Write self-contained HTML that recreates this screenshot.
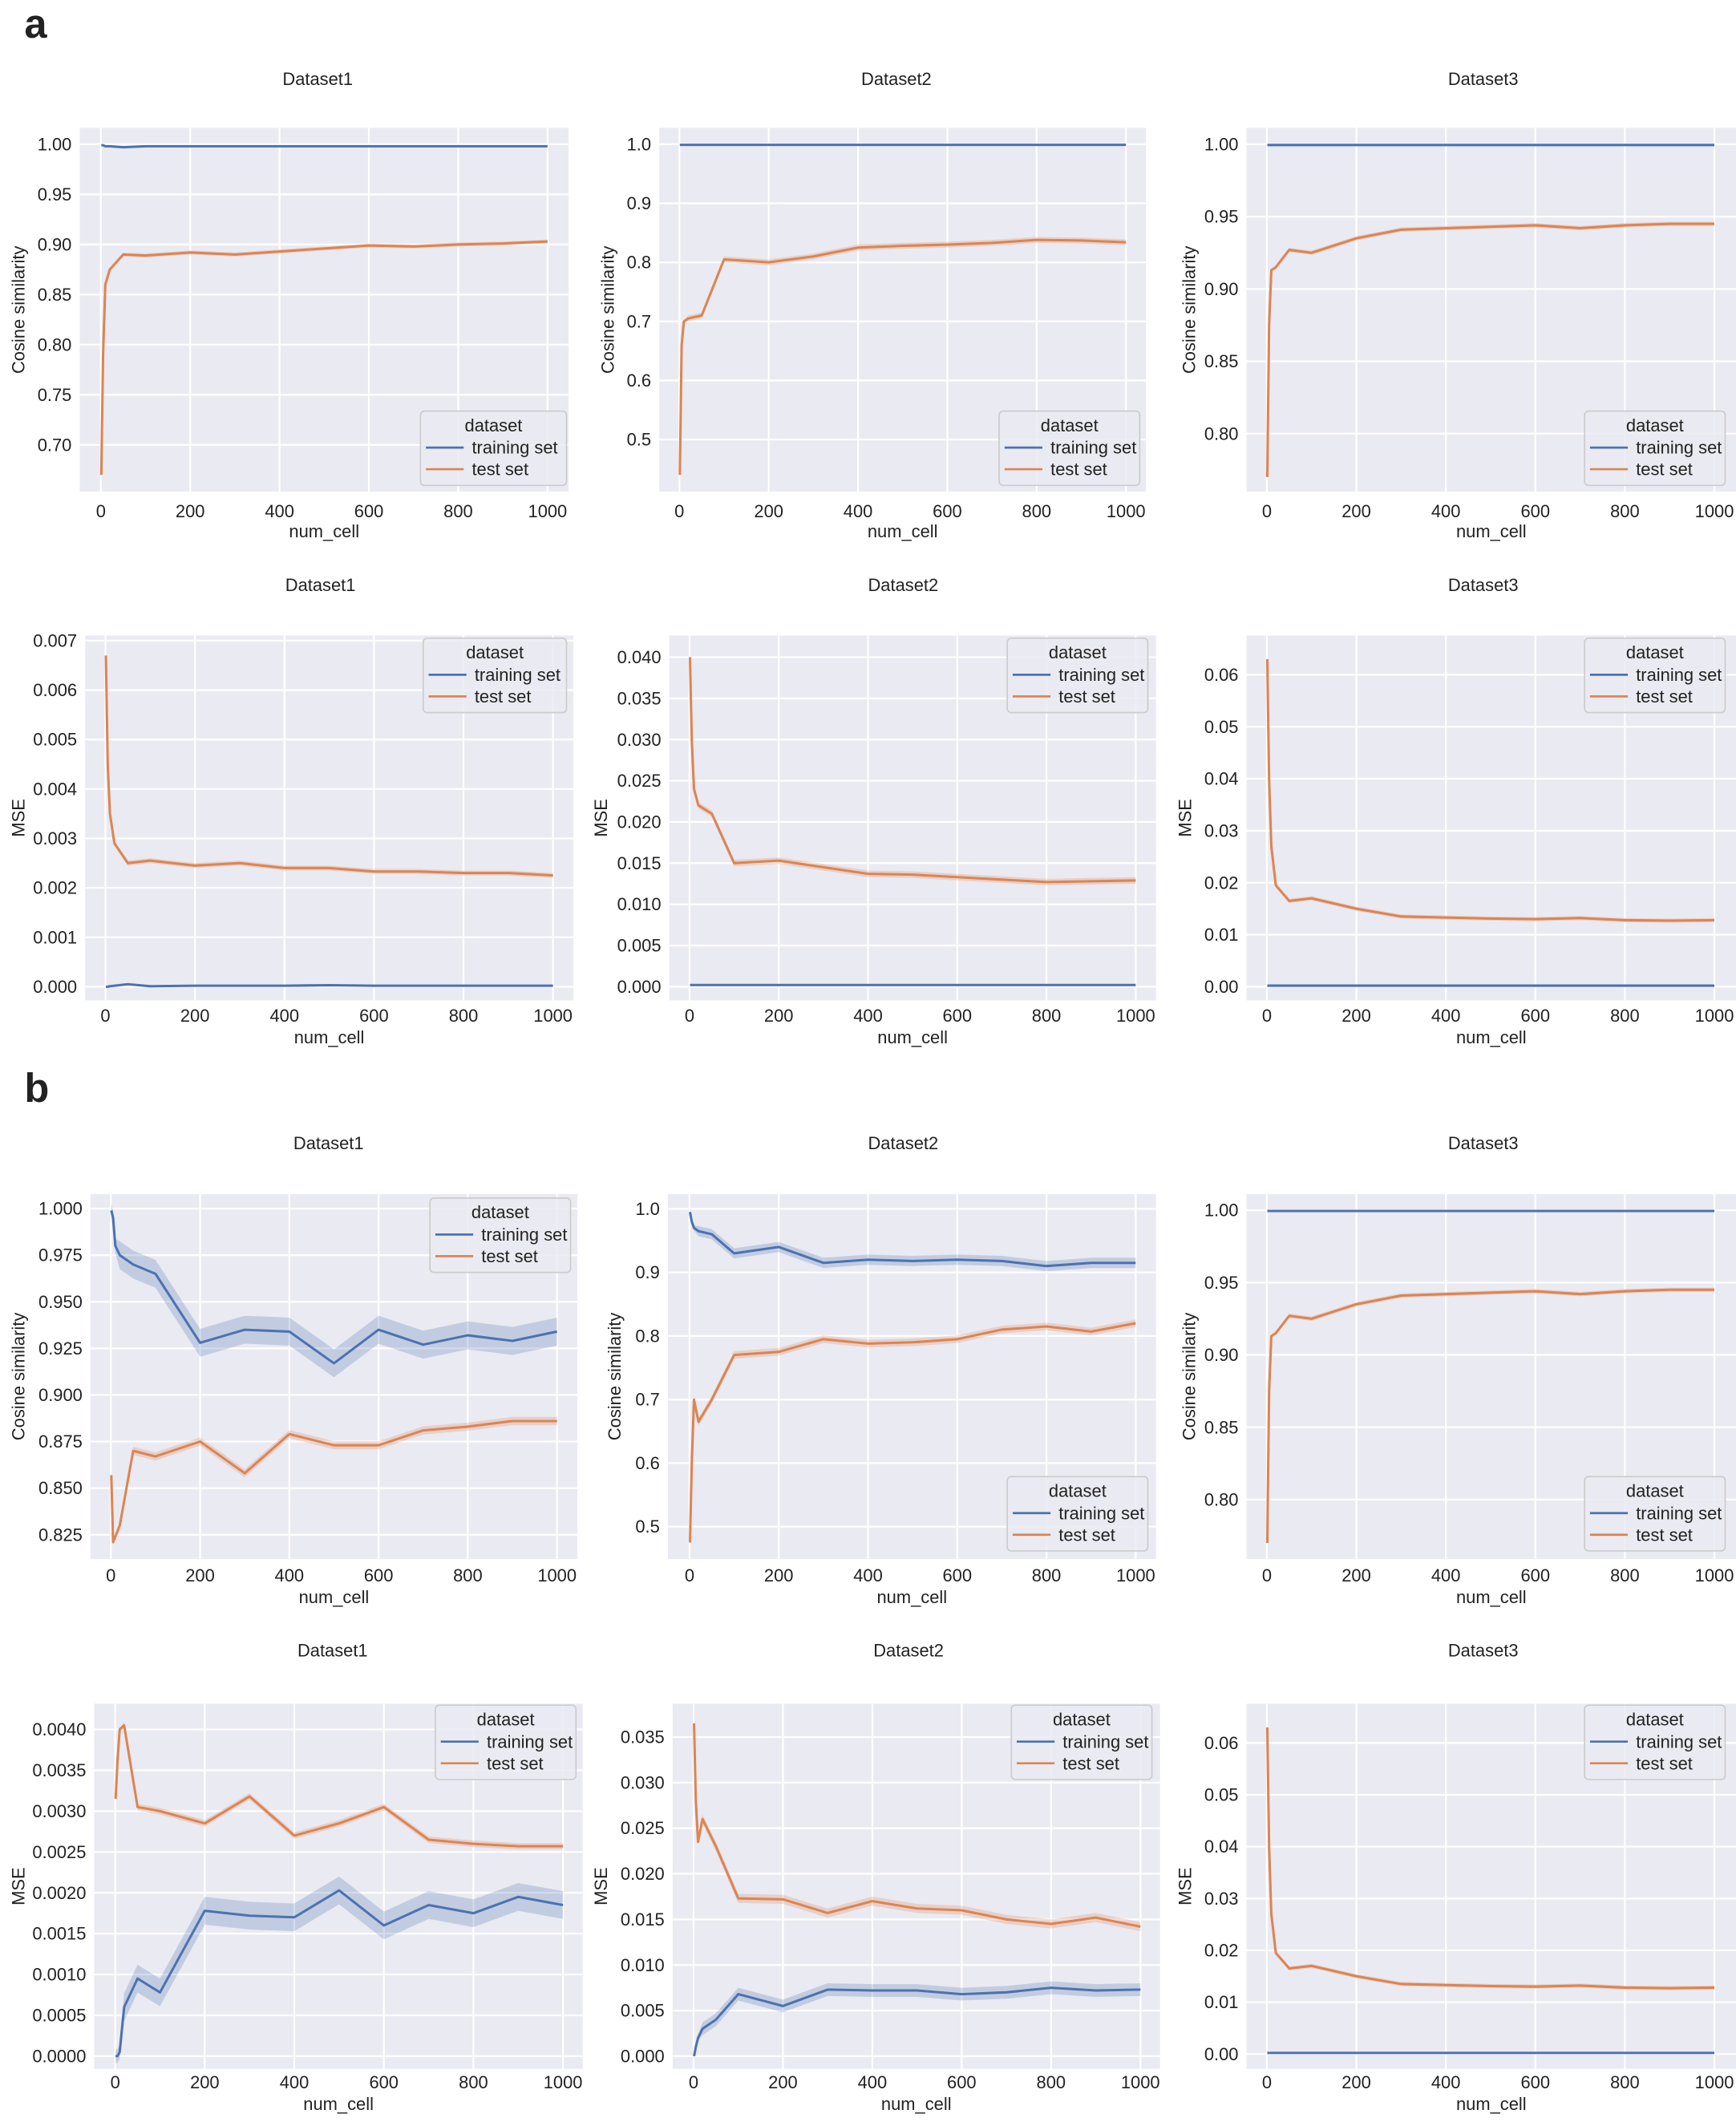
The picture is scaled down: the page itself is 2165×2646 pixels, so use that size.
<!DOCTYPE html>
<html><head><meta charset="utf-8"><style>
html,body{margin:0;padding:0;background:#fff;}
svg{display:block;font-family:"Liberation Sans","DejaVu Sans",sans-serif;}
</style></head><body>
<svg id="s" width="2165" height="2646" viewBox="0 0 1284 1569.3" preserveAspectRatio="none" xmlns="http://www.w3.org/2000/svg">
<text x="18" y="28" font-size="30" font-weight="bold" fill="#222">a</text>
<text x="18" y="815" font-size="30" font-weight="bold" fill="#222">b</text>
</svg>
<script>
const X=[1,5,10,20,50,100,200,300,400,500,600,700,800,900,1000];
const XT=["0","200","400","600","800","1000"];
const c=(n,v)=>X.map(()=>v);
const r1p3=[0.77,0.875,0.913,0.915,0.927,0.925,0.935,0.941,0.942,0.943,0.944,0.942,0.944,0.945,0.945];
const r2p3=[0.063,0.04,0.027,0.0195,0.0165,0.017,0.015,0.0135,0.0133,0.0131,0.013,0.0132,0.0128,0.0127,0.0128];
const P=[
{L:59,R:420.5,T:94.6,B:363.6,x0:74.6,x1:405,ya:[1,106.7],yb:[0.7,329],ticks:["1.00","0.95","0.90","0.85","0.80","0.75","0.70"],tv:[1,.95,.9,.85,.8,.75,.7],ylab:"Cosine similarity",ylx:14,title:"Dataset1",tc:235,ty:63,tky:378,xly:393,
 train:[0.999,0.999,0.998,0.998,0.997,0.998,0.998,0.998,0.998,0.998,0.998,0.998,0.998,0.998,0.998],test:[0.67,0.79,0.86,0.875,0.89,0.889,0.892,0.890,0.893,0.896,0.899,0.898,0.900,0.901,0.903],tb:0.0005,eb:0.002,leg:[311,304,108,55]},
{L:487.6,R:847.6,T:94.6,B:363.6,x0:502.5,x1:832.8,ya:[1,106.7],yb:[0.5,325],ticks:["1.0","0.9","0.8","0.7","0.6","0.5"],tv:[1,.9,.8,.7,.6,.5],ylab:"Cosine similarity",ylx:450,title:"Dataset2",tc:663,ty:63,tky:378,xly:393,
 train:c(0,0.999),test:[0.44,0.66,0.70,0.705,0.71,0.805,0.80,0.81,0.825,0.828,0.83,0.833,0.838,0.837,0.834],tb:0.001,eb:0.005,leg:[739,304,104,55]},
{L:922,R:1284,T:94.6,B:363.6,x0:937,x1:1268,ya:[1,106.7],yb:[0.8,320.7],ticks:["1.00","0.95","0.90","0.85","0.80"],tv:[1,.95,.9,.85,.8],ylab:"Cosine similarity",ylx:880,title:"Dataset3",tc:1097,ty:63,tky:378,xly:393,
 train:c(0,0.9995),test:r1p3,tb:0.0003,eb:0.0015,leg:[1172,304,104,55]},
{L:63,R:424,T:470,B:739.8,x0:78,x1:409,ya:[0.007,473.8],yb:[0,729.7],ticks:["0.007","0.006","0.005","0.004","0.003","0.002","0.001","0.000"],tv:[.007,.006,.005,.004,.003,.002,.001,0],ylab:"MSE",ylx:14,title:"Dataset1",tc:237,ty:437,tky:751,xly:767,
 train:[0,0,0.00001,0.00002,0.00005,0.00001,0.00002,0.00002,0.00002,0.00003,0.00002,0.00002,0.00002,0.00002,0.00002],test:[0.0067,0.0045,0.0035,0.0029,0.0025,0.00255,0.00245,0.0025,0.0024,0.0024,0.00233,0.00233,0.0023,0.0023,0.00225],tb:0.000005,eb:0.00005,leg:[313,472,106,55]},
{L:495,R:855,T:470,B:739.8,x0:510,x1:840,ya:[0.04,486],yb:[0,729.7],ticks:["0.040","0.035","0.030","0.025","0.020","0.015","0.010","0.005","0.000"],tv:[.04,.035,.03,.025,.02,.015,.01,.005,0],ylab:"MSE",ylx:445,title:"Dataset2",tc:668,ty:437,tky:751,xly:767,
 train:c(0,0.0002),test:[0.040,0.030,0.024,0.022,0.021,0.015,0.0153,0.0145,0.0137,0.0136,0.0133,0.013,0.0127,0.0128,0.0129],tb:0.00002,eb:0.0004,leg:[745,472,104,55]},
{L:922,R:1284,T:470,B:739.8,x0:937,x1:1268,ya:[0.06,499],yb:[0,729.7],ticks:["0.06","0.05","0.04","0.03","0.02","0.01","0.00"],tv:[.06,.05,.04,.03,.02,.01,0],ylab:"MSE",ylx:877,title:"Dataset3",tc:1097,ty:437,tky:751,xly:767,
 train:c(0,0.0002),test:r2p3,tb:0.00002,eb:0.0004,leg:[1172,472,104,55]},
{L:67,R:427,T:883,B:1153,x0:82,x1:412,ya:[1,893.8],yb:[0.825,1135],ticks:["1.000","0.975","0.950","0.925","0.900","0.875","0.850","0.825"],tv:[1,.975,.95,.925,.9,.875,.85,.825],ylab:"Cosine similarity",ylx:14,title:"Dataset1",tc:243,ty:850,tky:1165,xly:1181,
 train:[0.999,0.995,0.98,0.975,0.97,0.965,0.928,0.935,0.934,0.917,0.935,0.927,0.932,0.929,0.934],test:[0.857,0.821,0.824,0.83,0.87,0.867,0.875,0.858,0.879,0.873,0.873,0.881,0.883,0.886,0.886],tb:0.0075,eb:0.0022,leg:[318,886,104,55]},
{L:494,R:855,T:883,B:1153,x0:510,x1:840,ya:[1,894],yb:[0.5,1129],ticks:["1.0","0.9","0.8","0.7","0.6","0.5"],tv:[1,.9,.8,.7,.6,.5],ylab:"Cosine similarity",ylx:455,title:"Dataset2",tc:668,ty:850,tky:1165,xly:1181,
 train:[0.995,0.98,0.97,0.965,0.96,0.93,0.94,0.915,0.92,0.918,0.92,0.918,0.91,0.915,0.915],test:[0.475,0.60,0.70,0.665,0.70,0.77,0.775,0.795,0.788,0.79,0.795,0.81,0.815,0.807,0.82],tb:0.008,eb:0.006,leg:[745,1092,104,55]},
{L:922,R:1284,T:883,B:1153,x0:937,x1:1268,ya:[1,895],yb:[0.8,1109],ticks:["1.00","0.95","0.90","0.85","0.80"],tv:[1,.95,.9,.85,.8],ylab:"Cosine similarity",ylx:880,title:"Dataset3",tc:1097,ty:850,tky:1165,xly:1181,
 train:c(0,0.9995),test:r1p3,tb:0.0003,eb:0.0015,leg:[1172,1092,104,55]},
{L:69.7,R:431,T:1260,B:1530,x0:85.2,x1:416.4,ya:[0.004,1279],yb:[0,1520.6],ticks:["0.0040","0.0035","0.0030","0.0025","0.0020","0.0015","0.0010","0.0005","0.0000"],tv:[.004,.0035,.003,.0025,.002,.0015,.001,.0005,0],ylab:"MSE",ylx:14,title:"Dataset1",tc:246,ty:1225,tky:1540,xly:1556,
 train:[0,0,0.00005,0.0006,0.00095,0.00078,0.00178,0.00172,0.0017,0.00203,0.0016,0.00185,0.00175,0.00195,0.00185],test:[0.00315,0.0036,0.0040,0.00405,0.00305,0.003,0.00285,0.00318,0.0027,0.00285,0.00305,0.00265,0.0026,0.00257,0.00257],tb:0.00017,eb:0.00004,leg:[322,1261,104,55]},
{L:497.5,R:858,T:1260,B:1530,x0:513,x1:843.5,ya:[0.035,1284.6],yb:[0,1520.6],ticks:["0.035","0.030","0.025","0.020","0.015","0.010","0.005","0.000"],tv:[.035,.03,.025,.02,.015,.01,.005,0],ylab:"MSE",ylx:445,title:"Dataset2",tc:672,ty:1225,tky:1540,xly:1556,
 train:[0,0.001,0.002,0.003,0.004,0.0068,0.0055,0.0073,0.0072,0.0072,0.0068,0.007,0.0075,0.0072,0.0073],test:[0.0365,0.028,0.0235,0.026,0.023,0.0173,0.0172,0.0157,0.017,0.0162,0.016,0.015,0.0145,0.0152,0.0142],tb:0.0007,eb:0.0005,leg:[748,1261,104,55]},
{L:922,R:1284,T:1260,B:1530,x0:937,x1:1268,ya:[0.06,1289],yb:[0,1519],ticks:["0.06","0.05","0.04","0.03","0.02","0.01","0.00"],tv:[.06,.05,.04,.03,.02,.01,0],ylab:"MSE",ylx:877,title:"Dataset3",tc:1097,ty:1225,tky:1540,xly:1556,
 train:c(0,0.0002),test:r2p3,tb:0.00002,eb:0.0004,leg:[1172,1261,104,55]}
];
const BL="#4c72b0",OR="#dd8452";
let h="";
for(const p of P){
 const fx=x=>p.x0+x/1000*(p.x1-p.x0);
 const fy=v=>p.ya[1]+(v-p.ya[0])/(p.yb[0]-p.ya[0])*(p.yb[1]-p.ya[1]);
 h+=`<rect x="${p.L}" y="${p.T}" width="${p.R-p.L}" height="${p.B-p.T}" fill="#eaeaf2"/>`;
 for(let i=0;i<6;i++){const x=fx(i*200);h+=`<line x1="${x}" y1="${p.T}" x2="${x}" y2="${p.B}" stroke="#fff" stroke-width="1.3"/>`;
  h+=`<text x="${x}" y="${p.tky+4.5}" font-size="13" text-anchor="middle" fill="#222">${XT[i]}</text>`;}
 p.tv.forEach((v,i)=>{const y=fy(v);h+=`<line x1="${p.L}" y1="${y}" x2="${p.R}" y2="${y}" stroke="#fff" stroke-width="1.3"/>`;
  h+=`<text x="${p.L-6}" y="${y+4.5}" font-size="13" text-anchor="end" fill="#222">${p.ticks[i]}</text>`;});
 h+=`<text x="${p.tc}" y="${p.ty}" font-size="13" text-anchor="middle" fill="#222">${p.title}</text>`;
 h+=`<text x="${(p.L+p.R)/2}" y="${p.xly+4.5}" font-size="13" text-anchor="middle" fill="#222">num_cell</text>`;
 h+=`<text transform="translate(${p.ylx},${(p.T+p.B)/2}) rotate(-90)" font-size="13" text-anchor="middle" fill="#222" dy="4">${p.ylab}</text>`;
 const ser=(d,b,col)=>{
  const up=X.map((x,i)=>fx(x).toFixed(2)+","+fy(d[i]+b*(i<3?0.5:1)).toFixed(2));
  const dn=X.map((x,i)=>fx(x).toFixed(2)+","+fy(d[i]-b*(i<3?0.5:1)).toFixed(2)).reverse();
  h+=`<polygon points="${up.concat(dn).join(" ")}" fill="${col}" fill-opacity="0.25"/>`;
  h+=`<polyline points="${X.map((x,i)=>fx(x).toFixed(2)+","+fy(d[i]).toFixed(2)).join(" ")}" fill="none" stroke="${col}" stroke-width="1.8" stroke-linejoin="round"/>`;
 };
 ser(p.train,p.tb,BL);ser(p.test,p.eb,OR);
 const [lx,ly,lw,lh]=p.leg;
 h+=`<rect x="${lx}" y="${ly}" width="${lw}" height="${lh}" rx="3" fill="#eaeaf2" fill-opacity="0.85" stroke="#cccccc" stroke-width="1"/>`;
 h+=`<text x="${lx+lw/2}" y="${ly+15}" font-size="13" text-anchor="middle" fill="#222">dataset</text>`;
 h+=`<line x1="${lx+4}" y1="${ly+27}" x2="${lx+32}" y2="${ly+27}" stroke="${BL}" stroke-width="1.6"/><text x="${lx+38}" y="${ly+31.5}" font-size="13" fill="#222">training set</text>`;
 h+=`<line x1="${lx+4}" y1="${ly+43}" x2="${lx+32}" y2="${ly+43}" stroke="${OR}" stroke-width="1.6"/><text x="${lx+38}" y="${ly+47.5}" font-size="13" fill="#222">test set</text>`;
}
document.getElementById("s").insertAdjacentHTML("beforeend",h);
</script>
</body></html>
